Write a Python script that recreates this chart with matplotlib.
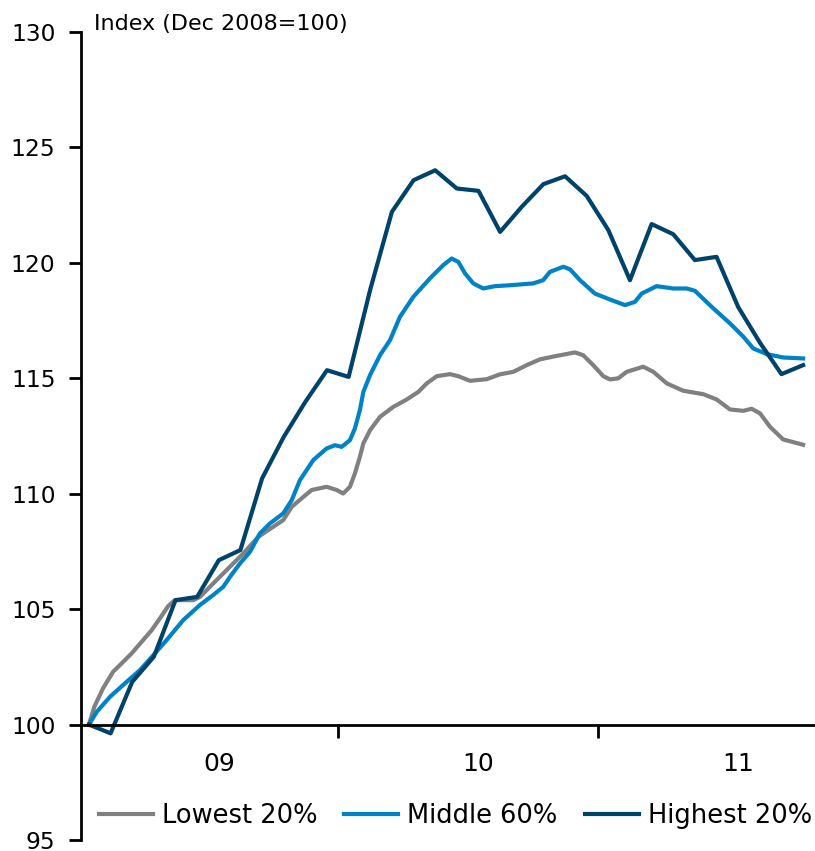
import numpy as np
import matplotlib
matplotlib.use("Agg")
import matplotlib.pyplot as plt

# months since Dec 2008 (0 = Dec 2008)
low_x = [0, 0.25, 0.65, 1.12, 1.51, 1.97, 2.44, 2.9, 3.28, 3.66, 3.97, 4.82, 5.13, 5.74,
         6.36, 7.13, 7.82, 8.52, 8.98, 9.37, 9.83, 10.29, 10.98, 11.45, 11.75, 12.06,
         12.29, 12.52, 12.68, 12.99, 13.45, 14.06, 14.68, 15.22, 15.61, 16.07, 16.68,
         17.07, 17.61, 18.38, 18.99, 19.61, 20.23, 20.84, 21.61, 22.46, 22.84, 23.3,
         23.77, 24.08, 24.46, 24.85, 25.61, 26.08, 26.7, 27.46, 28.39, 29.01, 29.62,
         30.24, 30.62, 31.01, 31.47, 32.08, 33.0]
low_y = [100.0, 100.77, 101.57, 102.29, 102.65, 103.08, 103.59, 104.09, 104.6, 105.13,
         105.39, 105.39, 105.53, 106.11, 106.69, 107.41, 108.13, 108.57, 108.86, 109.43,
         109.8, 110.16, 110.3, 110.16, 110.01, 110.3, 110.88, 111.6, 112.18, 112.75,
         113.33, 113.76, 114.08, 114.41, 114.78, 115.09, 115.18, 115.09, 114.89, 114.96,
         115.17, 115.28, 115.57, 115.82, 115.97, 116.12, 116.0, 115.57, 115.09, 114.95,
         115.0, 115.28, 115.5, 115.28, 114.78, 114.46, 114.31, 114.08, 113.65, 113.59,
         113.68, 113.48, 112.9, 112.35, 112.12]

mid_x = [0, 0.36, 0.97, 1.74, 2.36, 2.97, 3.59, 4.36, 5.13, 5.74, 6.21, 6.52, 6.98, 7.44,
         7.9, 8.36, 8.98, 9.37, 9.75, 10.37, 10.98, 11.37, 11.68, 12.06, 12.29, 12.52,
         12.68, 12.99, 13.45, 13.91, 14.37, 14.99, 15.76, 16.37, 16.76, 17.07, 17.38,
         17.76, 18.22, 18.76, 19.45, 20.53, 20.99, 21.3, 21.92, 22.23, 22.69, 23.38,
         24.08, 24.77, 25.23, 25.54, 26.23, 27.0, 27.62, 28.0, 28.85, 29.62, 30.24,
         30.7, 31.32, 32.08, 33.0]
mid_y = [100.0, 100.55, 101.2, 101.85, 102.36, 103.0, 103.66, 104.53, 105.18, 105.61,
         105.97, 106.4, 106.98, 107.48, 108.28, 108.71, 109.15, 109.72, 110.59, 111.46,
         111.96, 112.1, 112.03, 112.32, 112.83, 113.62, 114.41, 115.14, 116.0, 116.65,
         117.66, 118.53, 119.33, 119.9, 120.19, 120.04, 119.54, 119.11, 118.89, 118.99,
         119.03, 119.11, 119.25, 119.61, 119.83, 119.72, 119.25, 118.67, 118.41, 118.17,
         118.31, 118.67, 118.99, 118.89, 118.89, 118.79, 118.03, 117.38, 116.8, 116.29,
         116.05, 115.9, 115.86]

high_x = list(range(34))
high_y = [100.0, 99.62, 101.85, 102.94, 105.39, 105.53, 107.12, 107.56, 110.66, 112.46,
          113.98, 115.35, 115.06, 118.85, 122.21, 123.58, 124.01, 123.22, 123.12, 121.34,
          122.43, 123.41, 123.75, 122.9, 121.42, 119.25, 121.68, 121.24, 120.12, 120.26,
          118.09, 116.55, 115.18, 115.57]

year_pos = [6, 18, 30]
year_labels = ["09", "10", "11"]
year_breaks = [11.5, 23.5]

plt.rcParams['font.family'] = ['DejaVu Sans']

fig = plt.figure(figsize=(8.15, 8.51), dpi=100)
ax = fig.add_axes([80.5 / 815, 11 / 851, (815 - 80.5) / 815, 808 / 851])

ax.plot(low_x, low_y, color="#808080", lw=3, label="Lowest 20%")
ax.plot(mid_x, mid_y, color="#0083C6", lw=3, label="Middle 60%")
ax.plot(high_x, high_y, color="#00436A", lw=3, label="Highest 20%")

ax.set_xlim(-0.39, 33.55)
ax.set_ylim(95, 130)
ax.set_yticks(np.arange(95, 131, 5))
ax.tick_params(axis="y", length=9, width=2, labelsize=16.8, pad=9)

# x axis crosses at 100
for s in ["top", "right"]:
    ax.spines[s].set_visible(False)
ax.spines["left"].set_linewidth(2)
ax.spines["bottom"].set_position(("data", 100))
ax.spines["bottom"].set_linewidth(2)
ax.set_xticks(year_breaks)
ax.set_xticklabels([])
ax.set_xticks(year_pos, minor=True)
ax.set_xticklabels(year_labels, minor=True)
ax.tick_params(axis="x", which="major", length=9, width=2)
ax.tick_params(axis="x", which="minor", length=0, labelsize=18, pad=20)

fig.text(94 / 815, 1 - 30 / 851, "Index (Dec 2008=100)", fontsize=16, va="baseline")

ax.legend(loc="center left", bbox_to_anchor=(99 / 815, 1 - 816 / 851),
          bbox_transform=fig.transFigure, ncol=3, frameon=False, fontsize=18.5,
          handlelength=2.1, handletextpad=0.35, columnspacing=1.05,
          borderpad=0, borderaxespad=0)

fig.savefig("out.png", dpi=100)
